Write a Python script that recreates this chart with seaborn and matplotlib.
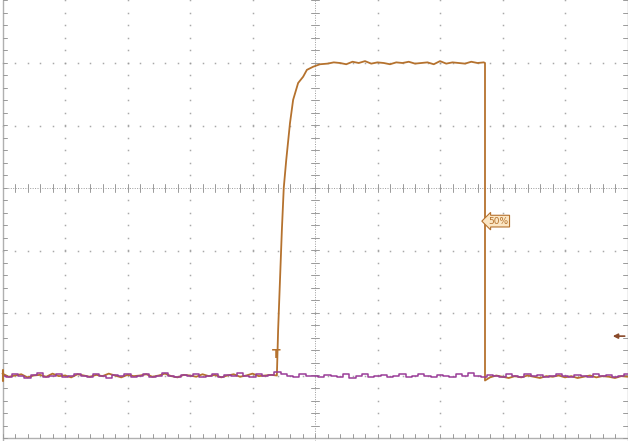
import numpy as np
import matplotlib
matplotlib.use("Agg")
import matplotlib.pyplot as plt
import seaborn as sns
import pandas as pd

# scope trace, screen divisions (x: -5..5, y: 0 = centre line)
purple_t = [-5.0, -4.9, -4.8, -4.7, -4.6, -4.5, -4.4, -4.3, -4.2, -4.1,
            -4.0, -3.9, -3.8, -3.7, -3.6, -3.5, -3.4, -3.3, -3.2, -3.1,
            -3.0, -2.9, -2.8, -2.7, -2.6, -2.5, -2.4, -2.3, -2.2, -2.1,
            -2.0, -1.9, -1.8, -1.7, -1.6, -1.5, -1.4, -1.3, -1.2, -1.1,
            -1.0, -0.9, -0.8, -0.7, -0.6, -0.5, -0.4, -0.3, -0.2, -0.1,
            0.0, 0.1, 0.2, 0.3, 0.4, 0.5, 0.6, 0.7, 0.8, 0.9,
            1.0, 1.1, 1.2, 1.3, 1.4, 1.5, 1.6, 1.7, 1.8, 1.9,
            2.0, 2.1, 2.2, 2.3, 2.4, 2.5, 2.6, 2.7, 2.8, 2.9,
            3.0, 3.1, 3.2, 3.3, 3.4, 3.5, 3.6, 3.7, 3.8, 3.9,
            4.0, 4.1, 4.2, 4.3, 4.4, 4.5, 4.6, 4.7, 4.8, 4.9, 5.0]
purple_v = [-3.00, -3.03, -2.98, -3.01, -3.04, -2.99, -2.96, -3.02, -3.00, -2.97,
            -3.03, -3.01, -2.98, -3.00, -3.02, -2.97, -3.01, -3.04, -2.99, -3.00,
            -2.97, -3.02, -3.00, -2.98, -3.03, -3.01, -2.96, -3.00, -3.02, -2.99,
            -3.01, -2.97, -3.03, -3.00, -2.98, -3.02, -2.99, -3.01, -2.96, -3.00,
            -3.03, -2.98, -3.01, -2.99, -2.95, -2.97, -3.00, -3.02, -2.98, -3.01,
            -3.00, -3.03, -2.99, -3.01, -3.02, -2.98, -3.04, -3.00, -2.97, -3.02,
            -3.01, -2.99, -3.03, -3.00, -2.98, -3.02, -3.00, -2.97, -3.01, -3.03,
            -2.99, -3.00, -3.02, -2.98, -3.01, -2.96, -3.00, -3.03, -2.99, -3.01,
            -3.02, -2.98, -3.00, -3.03, -2.97, -3.01, -2.99, -3.02, -3.00, -2.98,
            -3.01, -3.03, -2.99, -3.00, -3.02, -2.97, -3.01, -2.99, -3.03, -3.00, -2.98]

orange_t = [-5.0, -4.9, -4.8, -4.7, -4.6, -4.5, -4.4, -4.3, -4.2, -4.1,
            -4.0, -3.9, -3.8, -3.7, -3.6, -3.5, -3.4, -3.3, -3.2, -3.1,
            -3.0, -2.9, -2.8, -2.7, -2.6, -2.5, -2.4, -2.3, -2.2, -2.1,
            -2.0, -1.9, -1.8, -1.7, -1.6, -1.5, -1.4, -1.3, -1.2, -1.1,
            -1.0, -0.9, -0.8, -0.7,
            -0.61, -0.59, -0.56, -0.53, -0.50, -0.46, -0.40, -0.35, -0.27,
            -0.19, -0.13, -0.03, 0.08,
            0.2, 0.3, 0.4, 0.5, 0.6, 0.7, 0.8, 0.9, 1.0, 1.1,
            1.2, 1.3, 1.4, 1.5, 1.6, 1.7, 1.8, 1.9, 2.0, 2.1,
            2.2, 2.3, 2.4, 2.5, 2.6, 2.7,
            2.72, 2.72,
            2.8, 2.9, 3.0, 3.1, 3.2, 3.3, 3.4, 3.5, 3.6, 3.7,
            3.8, 3.9, 4.0, 4.1, 4.2, 4.3, 4.4, 4.5, 4.6, 4.7, 4.8, 4.9, 5.0]
orange_v = [-2.97, -3.02, -3.00, -2.98, -3.03, -3.00, -2.99, -3.02, -2.97, -3.01,
            -3.00, -3.03, -2.98, -3.00, -3.02, -2.99, -3.01, -2.97, -3.00, -3.03,
            -2.99, -3.01, -3.00, -2.98, -3.02, -3.00, -2.97, -3.01, -3.03, -2.99,
            -3.00, -3.02, -2.98, -3.01, -2.99, -3.03, -3.00, -2.98, -3.02, -3.00,
            -2.97, -3.01, -3.00, -2.99,
            -3.00, -2.27, -1.47, -0.67, 0.00, 0.45, 1.04, 1.41, 1.68,
            1.78, 1.89, 1.94, 1.98,
            1.99, 2.01, 2.00, 1.98, 2.02, 2.00, 2.03, 1.99, 2.01, 2.00,
            1.98, 2.01, 2.00, 2.02, 1.99, 2.00, 2.01, 1.98, 2.03, 1.99,
            2.01, 2.00, 1.99, 2.02, 2.00, 2.01,
            2.00, -3.08,
            -3.03, -3.00, -3.02, -3.04, -3.01, -3.03, -3.00, -3.02, -3.04, -3.01,
            -3.02, -3.00, -3.03, -3.01, -3.04, -3.02, -3.00, -3.03, -3.01, -3.02,
            -3.04, -3.01, -3.02]

ORANGE = "#b5722e"
PURPLE = "#9a3d98"
GRID = "#9a9a9a"

sns.set_style("white")
fig = plt.figure(figsize=(6.28, 4.41), dpi=100)
ax = fig.add_axes([0, 0, 1, 1])

# graticule: dotted division lines
ys = np.arange(-4.0, 3.01, 0.2)
xs = np.arange(-5.0, 5.01, 0.2)
for gx in range(-4, 5):
    if gx != 0:
        ax.plot([gx] * len(ys), ys, ls="none", marker="s", ms=1.1, color=GRID, mew=0, alpha=0.85)
for gy in range(-3, 3):
    if gy != 0:
        ax.plot(xs, [gy] * len(xs), ls="none", marker="s", ms=1.1, color=GRID, mew=0, alpha=0.85)

# centre lines with minor ticks
ax.plot([-5, 5], [0, 0], color=GRID, lw=0.7, ls=(0, (1, 1.5)))
ax.plot([0, 0], [-4.05, 3.01], color=GRID, lw=0.7, ls=(0, (1, 1.5)))
for x in xs:
    ax.plot([x, x], [-0.06, 0.06], color=GRID, lw=0.7)
for y in ys:
    ax.plot([-0.06, 0.06], [y, y], color=GRID, lw=0.7)

# frame edges with ticks
ax.plot([-5.0, -5.0], [-4.05, 3.01], color="#b0b0b0", lw=1.0)
ax.plot([5.0, 5.0], [-4.05, 3.01], color="#b0b0b0", lw=1.0)
ax.plot([-5.0, 5.0], [-4.0, -4.0], color="#b0b0b0", lw=1.0)
for x in xs:
    ax.plot([x, x], [-4.0, -3.93], color=GRID, lw=0.7)
for y in ys:
    ax.plot([-5.0, -4.93], [y, y], color=GRID, lw=0.7)
    ax.plot([4.93, 5.0], [y, y], color=GRID, lw=0.7)

df_o = pd.DataFrame({"t": orange_t, "v": orange_v})
df_p = pd.DataFrame({"t": purple_t, "v": purple_v})
sns.lineplot(data=df_o, x="t", y="v", ax=ax, color=ORANGE, lw=1.3,
             estimator=None, sort=False)
sns.lineplot(data=df_p, x="t", y="v", ax=ax, color=PURPLE, lw=1.1,
             estimator=None, sort=False, drawstyle="steps-mid")
ax.set_xlim(-5.04, 5.008)
ax.set_ylim(-4.048, 3.008)
ax.set_axis_off()

# trigger marker, level marker, channel marker
ax.text(-0.62, -2.66, "T", color=ORANGE, fontsize=9, fontweight="bold",
        ha="center", va="center")
ax.text(2.93, -0.53, "50%", color=ORANGE, fontsize=6.5, ha="center", va="center",
        bbox=dict(boxstyle="larrow,pad=0.15", fc="#fbe6c4", ec=ORANGE, lw=0.8))
ax.annotate("", xy=(4.72, -2.37), xytext=(5.0, -2.37),
            arrowprops=dict(arrowstyle="-|>", color="#8a4a2a", lw=1.2, mutation_scale=7))
ax.plot([-4.99, -4.99], [-3.09, -2.91], color=ORANGE, lw=1.5)

fig.savefig("out.png", dpi=100)
